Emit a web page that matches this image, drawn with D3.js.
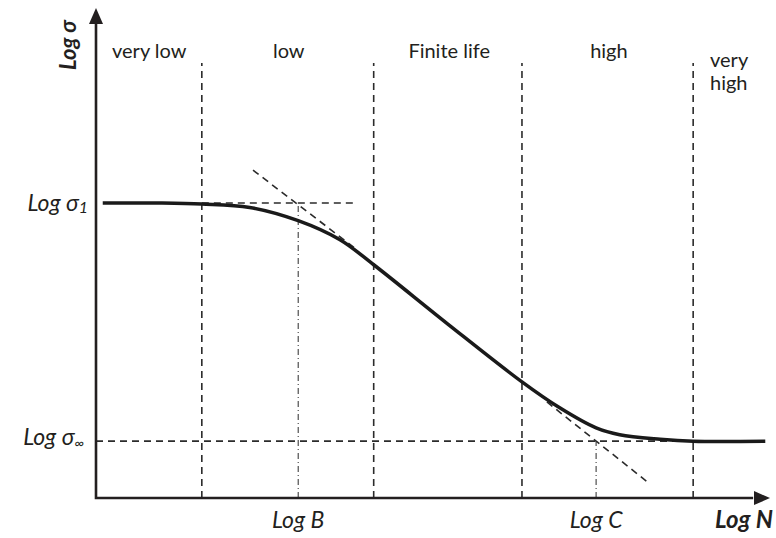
<!DOCTYPE html>
<html>
<head>
<meta charset="utf-8">
<script src="https://cdn.jsdelivr.net/npm/d3@7"></script>
<style>
  body { margin: 0; background: #fff; }
  svg text { font-family: Lato, "Open Sans", sans-serif; fill: #231f20; }
</style>
</head>
<body>
<svg id="sn" width="776" height="538"></svg>
<script>
// S-N curve, schematic (log N vs log sigma), units are arbitrary log decades

// main curve
var curveN     = [0.10, 0.95, 1.57, 2.28, 3.00, 3.62, 4.12, 5.22, 6.32, 6.88, 7.42, 7.77, 8.37, 8.86, 9.93];
var curveSigma = [6.02, 6.02, 6.00, 5.93, 5.66, 5.27, 4.76, 3.55, 2.37, 1.84, 1.43, 1.29, 1.20, 1.16, 1.16];

// regime boundaries and names
var zoneBounds = [1.57, 4.12, 6.32, 8.86];
var zoneTop = 8.88;
var zoneNames = [["very low"], ["low"], ["Finite life"], ["high"], ["very", "high"]];
var zoneLabelN = [0.79, 2.86, 5.24, 7.61, 9.11];

// levels
var sigma1 = 6.02, sigmaInf = 1.16;
var logB = 3.00, logC = 7.42;

// tangent (dashed) lines, [n, sigma] end points
var tangent1 = [[2.33, 6.69], [3.84, 5.10]];
var tangent2 = [[6.69, 1.96], [8.18, 0.33]];

var svg = d3.select('#sn');

var x = d3.scaleLinear().domain([0, 10]).range([96, 770]);
var y = d3.scaleLinear().domain([0, 10]).range([498, 8]);

var line = d3.line().x(function(d) { return x(d[0]) }).y(function(d) { return y(d[1]) });

function seg(p, dash, w) {
  return svg.append('path')
    .attr('d', line(p))
    .attr('fill', 'none')
    .attr('stroke', '#2b2b2b')
    .attr('stroke-width', w || 1.6)
    .attr('stroke-dasharray', dash);
}

// zone boundaries
zoneBounds.forEach(function(b) {
  seg([[b, 0], [b, zoneTop]], '7,5');
});

// horizontal guides
seg([[zoneBounds[0], sigma1], [3.87, sigma1]], '7,5');
seg([[0, sigmaInf], [9.93, sigmaInf]], '7,5');

// tangents
seg(tangent1, '7,5');
seg(tangent2, '7,5');

// dash-dot drop lines to Log B and Log C
seg([[logB, 0], [logB, sigma1]], '6,3,1,3', 1);
seg([[logC, 0], [logC, sigmaInf]], '6,3,1,3', 1);

// curve
var pts = curveN.map(function(n, i) { return [n, curveSigma[i]] });
svg.append('path')
  .attr('d', line.curve(d3.curveCatmullRom)(pts))
  .attr('fill', 'none')
  .attr('stroke', '#1a1a1a')
  .attr('stroke-width', 3.5);
line.curve(d3.curveLinear);

// axes with arrows
svg.append('path')
  .attr('d', line([[0, 9.7], [0, 0], [9.75, 0]]))
  .attr('fill', 'none')
  .attr('stroke', '#231f20')
  .attr('stroke-width', 2.6);

svg.append('path') // y arrow
  .attr('d', 'M' + x(0) + ',' + y(10) + 'L' + (x(0) - 7) + ',' + (y(10) + 16) + 'L' + (x(0) + 7) + ',' + (y(10) + 16) + 'Z')
  .attr('fill', '#231f20');
svg.append('path') // x arrow
  .attr('d', 'M' + x(10) + ',' + y(0) + 'L' + (x(10) - 16) + ',' + (y(0) - 7) + 'L' + (x(10) - 16) + ',' + (y(0) + 7) + 'Z')
  .attr('fill', '#231f20');

// zone labels
zoneNames.forEach(function(lines, i) {
  var t = svg.append('text')
    .attr('x', x(zoneLabelN[i]))
    .attr('y', i == 4 ? 67 : 58)
    .attr('text-anchor', i == 4 ? 'start' : 'middle')
    .style('font-size', '20px');
  lines.forEach(function(s, j) {
    t.append('tspan').attr('x', x(zoneLabelN[i])).attr('dy', j ? 23 : 0).text(s);
  });
});

// axis labels
svg.append('text')
  .attr('transform', 'translate(76,45) rotate(-90)')
  .attr('text-anchor', 'middle')
  .style('font-size', '22px').style('font-style', 'italic').style('font-weight', 'bold')
  .text('Log σ');

svg.append('text')
  .attr('x', 773).attr('y', 528)
  .attr('text-anchor', 'end')
  .style('font-size', '24px').style('font-style', 'italic').style('font-weight', 'bold')
  .text('Log N');

var s1 = svg.append('text')
  .attr('x', 88).attr('y', y(sigma1) + 8)
  .attr('text-anchor', 'end')
  .style('font-size', '23px').style('font-style', 'italic');
s1.append('tspan').text('Log σ');
s1.append('tspan').style('font-size', '16px').attr('dy', 2).text('1');

var sInf = svg.append('text')
  .attr('x', 84).attr('y', y(sigmaInf) + 4)
  .attr('text-anchor', 'end')
  .style('font-size', '23px').style('font-style', 'italic');
sInf.append('tspan').text('Log σ');
sInf.append('tspan').style('font-size', '14px').attr('dy', 3).text('∞');

svg.append('text')
  .attr('x', x(logB)).attr('y', 528)
  .attr('text-anchor', 'middle')
  .style('font-size', '23px').style('font-style', 'italic')
  .text('Log B');

svg.append('text')
  .attr('x', x(logC)).attr('y', 528)
  .attr('text-anchor', 'middle')
  .style('font-size', '23px').style('font-style', 'italic')
  .text('Log C');
</script>
</body>
</html>
